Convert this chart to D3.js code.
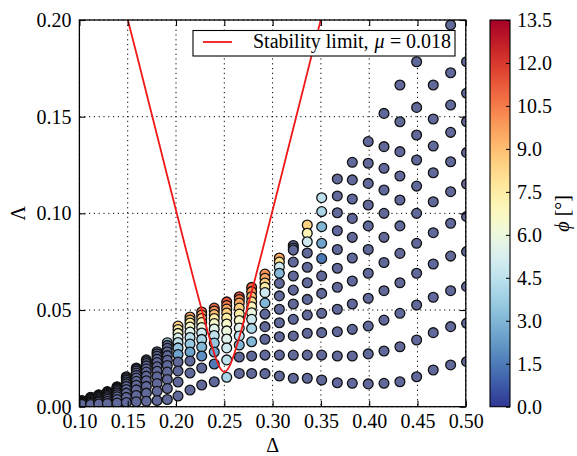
<!DOCTYPE html>
<html>
<head>
<meta charset="utf-8">
<script src="https://cdn.jsdelivr.net/npm/d3@7"></script>
<style>
  body { margin: 0; background: #fff; }
</style>
</head>
<body>
<svg id="chart" width="577" height="456"></svg>
<script>
// Δ of each column of runs
const delta = [0.1027, 0.1117, 0.1200, 0.1289, 0.1390, 0.1486, 0.1589, 0.1693, 0.1804, 0.1910,
  0.2021, 0.2145, 0.2266, 0.2396, 0.2525, 0.2655, 0.2783, 0.2921, 0.3070, 0.3214,
  0.3359, 0.3508, 0.3670, 0.3825, 0.3990, 0.4153, 0.4318, 0.4491, 0.4663, 0.4843, 0.5008];

// Λ of the runs in each column, lowest first
const lambda = [
  [0.0011, 0.0014, 0.0017, 0.0019, 0.0021, 0.0023, 0.0025, 0.0027, 0.0028, 0.0030, 0.0031],
  [0.0011, 0.0018, 0.0023, 0.0027, 0.0032, 0.0035, 0.0038, 0.0041, 0.0044, 0.0047, 0.0049],
  [0.0014, 0.0023, 0.0030, 0.0036, 0.0041, 0.0046, 0.0050, 0.0054, 0.0056, 0.0059, 0.0061],
  [0.0017, 0.0028, 0.0038, 0.0046, 0.0053, 0.0059, 0.0064, 0.0069, 0.0072, 0.0075, 0.0078],
  [0.0019, 0.0037, 0.0051, 0.0062, 0.0071, 0.0079, 0.0086, 0.0091, 0.0096, 0.0100, 0.0103],
  [0.0022, 0.0048, 0.0070, 0.0089, 0.0105, 0.0118, 0.0128, 0.0137, 0.0144, 0.0150, 0.0155],
  [0.0025, 0.0058, 0.0087, 0.0111, 0.0131, 0.0148, 0.0162, 0.0174, 0.0184, 0.0193, 0.0200],
  [0.0028, 0.0070, 0.0105, 0.0134, 0.0158, 0.0179, 0.0196, 0.0211, 0.0223, 0.0233, 0.0242],
  [0.0032, 0.0080, 0.0120, 0.0155, 0.0183, 0.0207, 0.0228, 0.0246, 0.0261, 0.0273, 0.0284],
  [0.0037, 0.0094, 0.0141, 0.0179, 0.0213, 0.0240, 0.0264, 0.0284, 0.0302, 0.0317, 0.0331],
  [0.0055, 0.0128, 0.0185, 0.0231, 0.0270, 0.0304, 0.0332, 0.0356, 0.0379, 0.0399, 0.0417],
  [0.0086, 0.0174, 0.0236, 0.0283, 0.0324, 0.0358, 0.0386, 0.0412, 0.0433, 0.0448, 0.0464],
  [0.0112, 0.0200, 0.0262, 0.0309, 0.0348, 0.0381, 0.0410, 0.0435, 0.0456, 0.0474, 0.0490],
  [0.0129, 0.0221, 0.0283, 0.0329, 0.0368, 0.0402, 0.0430, 0.0456, 0.0477, 0.0495, 0.0510],
  [0.0152, 0.0242, 0.0304, 0.0350, 0.0392, 0.0428, 0.0459, 0.0485, 0.0505, 0.0523, 0.0542],
  [0.0172, 0.0257, 0.0319, 0.0366, 0.0407, 0.0446, 0.0479, 0.0510, 0.0536, 0.0554, 0.0569],
  [0.0172, 0.0262, 0.0336, 0.0405, 0.0452, 0.0486, 0.0517, 0.0543, 0.0569, 0.0595, 0.0617],
  [0.0171, 0.0267, 0.0349, 0.0414, 0.0479, 0.0536, 0.0590, 0.0618, 0.0640, 0.0664, 0.0686],
  [0.0159, 0.0267, 0.0362, 0.0434, 0.0504, 0.0573, 0.0638, 0.0690, 0.0722, 0.0748, 0.0769],
  [0.0147, 0.0267, 0.0366, 0.0452, 0.0531, 0.0603, 0.0676, 0.0748, 0.0810, 0.0821, 0.0834],
  [0.0147, 0.0267, 0.0380, 0.0474, 0.0555, 0.0641, 0.0721, 0.0795, 0.0853, 0.0897, 0.0940],
  [0.0138, 0.0267, 0.0383, 0.0483, 0.0586, 0.0676, 0.0766, 0.0845, 0.0931, 0.1009, 0.1081],
  [0.0124, 0.0262, 0.0388, 0.0504, 0.0618, 0.0716, 0.0813, 0.0910, 0.1003, 0.1090, 0.1178],
  [0.0121, 0.0262, 0.0400, 0.0531, 0.0650, 0.0769, 0.0876, 0.0974, 0.1074, 0.1173, 0.1264],
  [0.0118, 0.0273, 0.0417, 0.0561, 0.0690, 0.0813, 0.0935, 0.1043, 0.1155, 0.1259, 0.1371],
  [0.0121, 0.0288, 0.0448, 0.0600, 0.0746, 0.0876, 0.1000, 0.1121, 0.1233, 0.1345, 0.1517],
  [0.0129, 0.0310, 0.0483, 0.0641, 0.0793, 0.0935, 0.1069, 0.1193, 0.1319, 0.1474, 0.1664],
  [0.0155, 0.0345, 0.0526, 0.0690, 0.0845, 0.1000, 0.1141, 0.1276, 0.1405, 0.1548, 0.1784],
  [0.0190, 0.0383, 0.0566, 0.0738, 0.0900, 0.1060, 0.1210, 0.1348, 0.1488, 0.1664, 0.2060],
  [0.0216, 0.0414, 0.0600, 0.0779, 0.0949, 0.1112, 0.1267, 0.1419, 0.1560, 0.1727, 0.1974],
  [0.0233, 0.0431, 0.0621, 0.0802, 0.0983, 0.1152, 0.1314, 0.1474, 0.1621, 0.1784, 0.2020]
];

// tilt angle φ [°] of the same runs; null marks a run that stayed upright
const N = null;
const phi = [
  [N, N, N, N, N, N, N, N, N, N, N],
  [N, N, N, N, N, N, N, N, N, N, N],
  [N, N, N, N, N, N, N, N, N, N, N],
  [N, N, N, N, N, N, N, N, N, N, N],
  [N, N, N, N, N, N, N, N, N, N, N],
  [N, N, N, N, N, N, N, N, N, N, N],
  [N, N, N, N, N, N, N, N, N, N, N],
  [N, N, N, N, N, N, N, N, N, N, N],
  [N, N, N, N, N, N, N, N, N, N, N],
  [N, N, N, N, N, N, N, N, N, N, 4.0],
  [N, N, N, N, 2.5, 3.5, 4.5, 5.5, 6.5, 7.5, 8.5],
  [N, N, N, 2.5, 3.5, 4.5, 5.5, 6.5, 7.5, 8.5, 9.5],
  [N, N, 2.0, 3.0, 4.0, 5.0, 6.0, 7.0, 8.5, 9.5, 10.5],
  [N, 1.5, 2.5, 3.5, 4.5, 5.5, 6.5, 7.5, 9.0, 10.0, 11.0],
  [4.0, 4.5, 5.0, 5.5, 6.0, 6.5, 7.5, 8.5, 9.5, 10.5, 11.5],
  [N, N, 3.0, 4.5, 5.5, 6.5, 7.5, 8.5, 9.5, 10.5, 11.5],
  [N, N, 3.0, 4.0, 5.0, 6.0, 7.0, 8.0, 9.0, 10.0, 11.0],
  [N, N, N, N, N, 3.0, 5.0, 7.5, 8.5, 9.5, 10.0],
  [N, N, N, N, N, N, N, 3.0, 5.0, 8.0, 9.5],
  [N, N, N, N, N, N, N, N, N, N, N],
  [N, N, N, N, N, N, N, N, 5.0, 7.0, 8.5],
  [N, N, N, N, N, N, 1.5, 2.5, 3.0, 4.0, 4.5],
  [N, N, N, N, N, N, N, N, N, N, N],
  [N, N, N, N, N, N, N, N, N, N, N],
  [N, N, N, N, N, N, N, N, N, N, N],
  [N, N, N, N, N, N, N, N, N, N, N],
  [N, N, N, N, N, N, N, N, N, N, N],
  [N, N, N, N, N, N, N, N, N, N, N],
  [N, N, N, N, N, N, N, N, N, N, N],
  [N, N, N, N, N, N, N, N, N, N, N],
  [N, N, N, N, N, N, N, N, N, N, N]
];

// stability boundary for μ = 0.018
const limitDelta  = [0.150, 0.160, 0.170, 0.180, 0.190, 0.200, 0.210, 0.220, 0.230, 0.235, 0.240, 0.245, 0.250,
                     0.255, 0.260, 0.265, 0.270, 0.280, 0.290, 0.300, 0.310, 0.320, 0.330, 0.340, 0.350];
const limitLambda = [0.2003, 0.1809, 0.1610, 0.1412, 0.1213, 0.1016, 0.0820, 0.0626, 0.0439, 0.0350, 0.0269, 0.0206, 0.0180,
                     0.0206, 0.0269, 0.0350, 0.0439, 0.0626, 0.0820, 0.1016, 0.1213, 0.1412, 0.1610, 0.1809, 0.2003];

const xTicks = [0.10, 0.15, 0.20, 0.25, 0.30, 0.35, 0.40, 0.45, 0.50];
const yTicks = [0.00, 0.05, 0.10, 0.15, 0.20];
const cbTicks = [0.0, 1.5, 3.0, 4.5, 6.0, 7.5, 9.0, 10.5, 12.0, 13.5];

const serif = '"Liberation Serif", "Times New Roman", Times, "DejaVu Serif", serif';
const svg = d3.select("#chart");
const plot = { left: 79.4, right: 465.8, top: 20, bottom: 406.7 };
const x = d3.scaleLinear().domain([0.10, 0.50]).range([plot.left, plot.right]);
const y = d3.scaleLinear().domain([0.00, 0.20]).range([plot.bottom, plot.top]);
const phiMax = 13.5;
const color = d3.scaleSequential(t => d3.interpolateRdYlBu(1 - t)).domain([0, phiMax]);
const uprightFill = "#61699b";
const limitRed = "#f01818";

svg.append("rect").attr("width", 577).attr("height", 456).attr("fill", "#fff");

const defs = svg.append("defs");
defs.append("clipPath").attr("id", "plotClip")
  .append("rect")
  .attr("x", plot.left).attr("y", plot.top)
  .attr("width", plot.right - plot.left).attr("height", plot.bottom - plot.top);

// dotted grid
const grid = svg.append("g").attr("stroke", "#000").attr("stroke-width", 1)
  .attr("stroke-dasharray", "1.2,3.6").attr("fill", "none");
grid.selectAll("line.gx").data(xTicks).join("line")
  .attr("x1", d => x(d)).attr("x2", d => x(d)).attr("y1", plot.top).attr("y2", plot.bottom);
grid.selectAll("line.gy").data(yTicks).join("line")
  .attr("y1", d => y(d)).attr("y2", d => y(d)).attr("x1", plot.left).attr("x2", plot.right);

// runs: one circle per (Δ, Λ), upper runs of a column drawn first
const runs = [];
delta.forEach((dv, i) => {
  for (let j = lambda[i].length - 1; j >= 0; j--) {
    runs.push({ d: dv, l: lambda[i][j], p: phi[i][j] });
  }
});
svg.append("g").attr("clip-path", "url(#plotClip)")
  .selectAll("circle").data(runs).join("circle")
  .attr("cx", r => x(r.d)).attr("cy", r => y(r.l)).attr("r", 4.9)
  .attr("fill", r => r.p === null ? uprightFill : color(r.p))
  .attr("stroke", "#111").attr("stroke-width", 1.3);

// stability limit
const limitLine = d3.line().x(d => x(d)).y((d, i) => y(limitLambda[i])).curve(d3.curveMonotoneX);
svg.append("g").attr("clip-path", "url(#plotClip)")
  .append("path").attr("d", limitLine(limitDelta))
  .attr("fill", "none").attr("stroke", limitRed).attr("stroke-width", 1.8);

// axes: inward ticks on all four sides
const fmt2 = d3.format(".2f");
const axB = svg.append("g").attr("transform", `translate(0,${plot.bottom})`)
  .call(d3.axisBottom(x).tickValues(xTicks).tickFormat(fmt2).tickSize(-6).tickPadding(7.5));
const axT = svg.append("g").attr("transform", `translate(0,${plot.top})`)
  .call(d3.axisTop(x).tickValues(xTicks).tickFormat("").tickSize(-6));
const axL = svg.append("g").attr("transform", `translate(${plot.left},0)`)
  .call(d3.axisLeft(y).tickValues(yTicks).tickFormat(fmt2).tickSize(-6).tickPadding(8));
const axR = svg.append("g").attr("transform", `translate(${plot.right},0)`)
  .call(d3.axisRight(y).tickValues(yTicks).tickFormat("").tickSize(-6));
[axB, axT, axL, axR].forEach(a => {
  a.select(".domain").remove();
  a.selectAll(".tick line").attr("stroke", "#000").attr("stroke-width", 1.1);
  a.selectAll("text").style("font-family", serif).style("font-size", "20px").attr("fill", "#000");
});

svg.append("rect")
  .attr("x", plot.left).attr("y", plot.top)
  .attr("width", plot.right - plot.left).attr("height", plot.bottom - plot.top)
  .attr("fill", "none").attr("stroke", "#000").attr("stroke-width", 1.3);

// axis titles
svg.append("text").attr("x", (plot.left + plot.right) / 2).attr("y", 451.5)
  .attr("text-anchor", "middle").style("font-family", serif).style("font-size", "20px").text("Δ");
svg.append("text").attr("transform", `translate(25,${(plot.top + plot.bottom) / 2}) rotate(-90)`)
  .attr("text-anchor", "middle").style("font-family", serif).style("font-size", "20px").text("Λ");

// legend
const lg = svg.append("g").style("font-family", serif).style("font-size", "20px");
lg.append("rect").attr("x", 193).attr("y", 30.5).attr("width", 262).attr("height", 25.5)
  .attr("fill", "#fff").attr("stroke", "#000").attr("stroke-width", 1.1);
lg.append("line").attr("x1", 203).attr("x2", 232).attr("y1", 42).attr("y2", 42)
  .attr("stroke", limitRed).attr("stroke-width", 1.8);
lg.append("text").attr("x", 253).attr("y", 47.5).text("Stability limit,");
lg.append("text").attr("x", 374.5).attr("y", 47.5).attr("font-style", "italic").text("μ");
lg.append("text").attr("x", 390).attr("y", 47.5).text("=");
lg.append("text").attr("x", 406).attr("y", 47.5).text("0.018");

// colour bar
const cb = { left: 490, right: 510, top: plot.top, bottom: plot.bottom };
const cbScale = d3.scaleLinear().domain([0, phiMax]).range([cb.bottom, cb.top]);
const grad = defs.append("linearGradient").attr("id", "cbGrad")
  .attr("x1", 0).attr("y1", 1).attr("x2", 0).attr("y2", 0);
d3.range(0, 1.0001, 0.02).forEach(t => {
  grad.append("stop").attr("offset", t).attr("stop-color", color(t * phiMax));
});
svg.append("rect").attr("x", cb.left).attr("y", cb.top)
  .attr("width", cb.right - cb.left).attr("height", cb.bottom - cb.top)
  .attr("fill", "url(#cbGrad)").attr("stroke", "#000").attr("stroke-width", 1.1);
const axC = svg.append("g").attr("transform", `translate(${cb.right},0)`)
  .call(d3.axisRight(cbScale).tickValues(cbTicks).tickFormat(d3.format(".1f")).tickSize(-4).tickPadding(7));
axC.select(".domain").remove();
axC.selectAll(".tick line").attr("stroke", "#000").attr("stroke-width", 1);
axC.selectAll("text").style("font-family", serif).style("font-size", "20px").attr("fill", "#000");

const cl = svg.append("text").attr("transform", `translate(569,${(cb.top + cb.bottom) / 2}) rotate(-90)`)
  .attr("text-anchor", "middle").style("font-family", serif).style("font-size", "20px");
cl.append("tspan").attr("font-style", "italic").text("ϕ");
cl.append("tspan").text(" [°]");
</script>
</body>
</html>
